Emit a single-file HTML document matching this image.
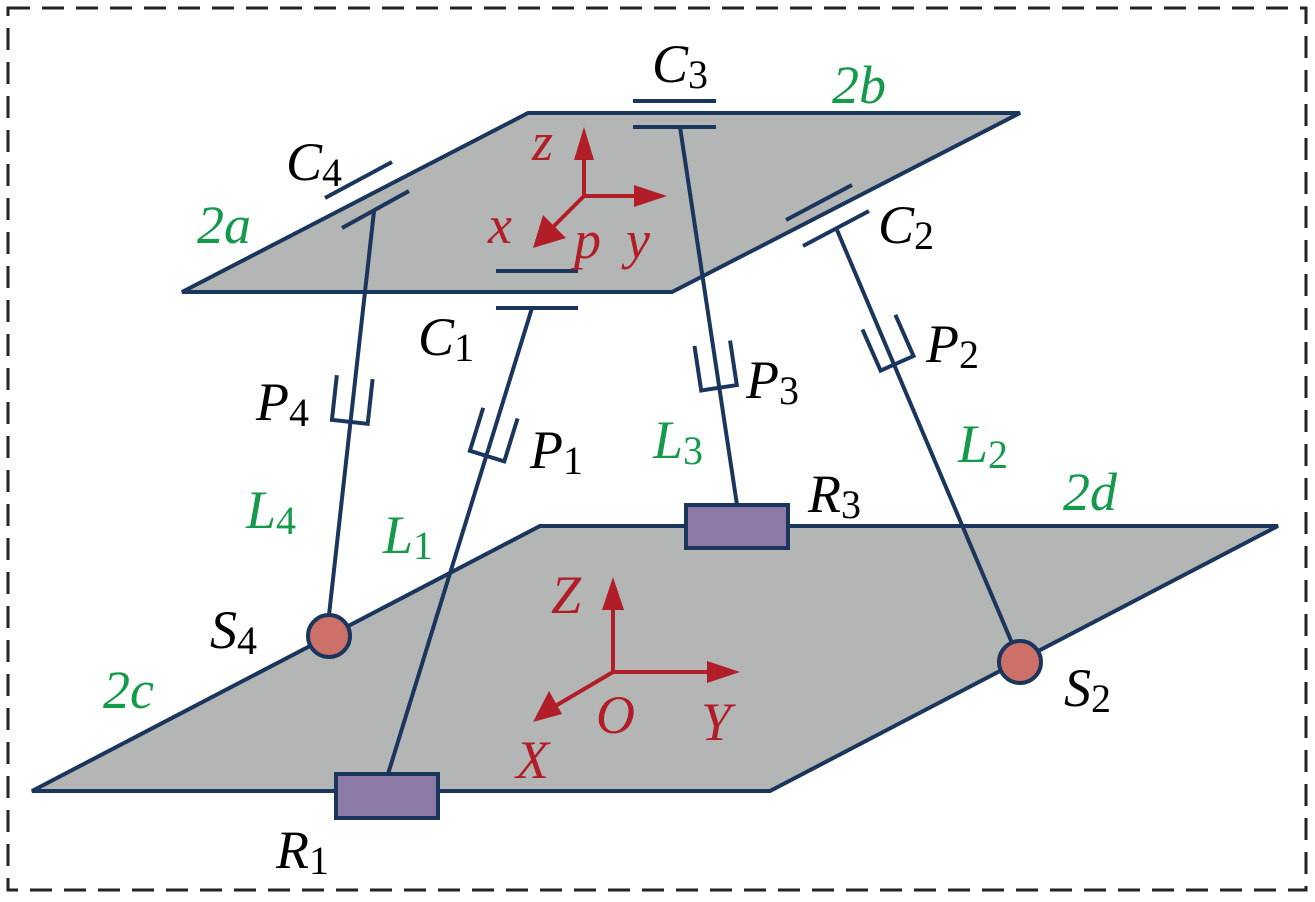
<!DOCTYPE html>
<html><head><style>
html,body{margin:0;padding:0;background:#fff}
text{font-family:"Liberation Serif","DejaVu Serif",serif;font-style:italic;font-size:54px}
.k{fill:#000}.g{fill:#15994a}.r{fill:#b21e28}
tspan.s{font-size:40px;font-style:normal}
</style></head><body>
<svg width="1315" height="897" viewBox="0 0 1315 897" xmlns="http://www.w3.org/2000/svg" font-family="Liberation Serif, serif">
<rect x="8" y="8" width="1298" height="882" fill="none" stroke="#222" stroke-width="3" stroke-dasharray="22,12"/>
<polygon points="182,292 528,113 1020,113 672,292" fill="#b4b5b5" stroke="#1b365d" stroke-width="4"/>
<polygon points="32,791 540,526 1278,526 770,791" fill="#b4b5b5" stroke="#1b365d" stroke-width="4"/>
<g stroke="#1b365d" stroke-width="4" fill="none">
<line x1="633" y1="101" x2="716" y2="101"/><line x1="633" y1="127" x2="716" y2="127"/>
<line x1="325" y1="198" x2="392" y2="162"/><line x1="342" y1="228" x2="409" y2="191"/>
<line x1="496" y1="271" x2="578" y2="271"/><line x1="496" y1="308" x2="578" y2="308"/>
<line x1="786" y1="220" x2="852" y2="185"/><line x1="803" y1="246" x2="869" y2="211"/>
<line x1="374" y1="211" x2="329" y2="615"/>
<line x1="532" y1="308" x2="388" y2="774"/>
<line x1="680" y1="127" x2="737" y2="505"/>
<line x1="837" y1="230" x2="1012" y2="643"/>
<g transform="translate(352,402) rotate(6.3)"><polyline points="-18,-25 -18,20 18,20 18,-25"/></g>
<g transform="translate(493,437) rotate(17.2)"><polyline points="-18,-25 -18,20 18,20 18,-25"/></g>
<g transform="translate(716,368) rotate(-8.6)"><polyline points="-18,-25 -18,20 18,20 18,-25"/></g>
<g transform="translate(889,345) rotate(-23.8)"><polyline points="-18,-25 -18,20 18,20 18,-25"/></g>
</g>
<rect x="686" y="505" width="102" height="43" fill="#8c79a5" stroke="#1b365d" stroke-width="4"/>
<rect x="336" y="774" width="102" height="44" fill="#8c79a5" stroke="#1b365d" stroke-width="4"/>
<circle cx="329" cy="636" r="21" fill="#cd7068" stroke="#1b365d" stroke-width="4"/>
<circle cx="1020" cy="662" r="21" fill="#cd7068" stroke="#1b365d" stroke-width="4"/>
<g stroke="#b21e28" stroke-width="4" fill="#b21e28">
<line x1="584" y1="196" x2="584" y2="150"/><polygon points="584,127 574,160 594,160" stroke="none"/>
<line x1="584" y1="196" x2="640" y2="196"/><polygon points="667,196 634,185 634,207" stroke="none"/>
<line x1="584" y1="196" x2="550" y2="230"/><polygon points="533,248 543,215 566,238" stroke="none"/>
<line x1="613" y1="672" x2="613" y2="600"/><polygon points="613,577 602,610 624,610" stroke="none"/>
<line x1="613" y1="672" x2="715" y2="672"/><polygon points="740,672 707,661 707,683" stroke="none"/>
<line x1="613" y1="672" x2="552" y2="708"/><polygon points="533,722 549,691 562,714" stroke="none"/>
</g>
<text class="k" x="652" y="82">C<tspan class="s" dy="6">3</tspan></text>
<text class="g" x="832" y="103">2b</text>
<text class="k" x="286" y="180">C<tspan class="s" dy="6">4</tspan></text>
<text class="g" x="197" y="243">2a</text>
<text class="k" x="878" y="243">C<tspan class="s" dy="6">2</tspan></text>
<text class="k" x="418" y="355">C<tspan class="s" dy="6">1</tspan></text>
<text class="k" x="256" y="420">P<tspan class="s" dy="6">4</tspan></text>
<text class="k" x="530" y="468">P<tspan class="s" dy="6">1</tspan></text>
<text class="k" x="746" y="398">P<tspan class="s" dy="6">3</tspan></text>
<text class="k" x="926" y="362">P<tspan class="s" dy="6">2</tspan></text>
<text class="g" x="653" y="458">L<tspan class="s" dy="6">3</tspan></text>
<text class="g" x="958" y="462">L<tspan class="s" dy="6">2</tspan></text>
<text class="g" x="1063" y="510">2d</text>
<text class="k" x="808" y="512">R<tspan class="s" dy="6">3</tspan></text>
<text class="g" x="246" y="528">L<tspan class="s" dy="6">4</tspan></text>
<text class="g" x="383" y="553">L<tspan class="s" dy="6">1</tspan></text>
<text class="k" x="210" y="648">S<tspan class="s" dy="6">4</tspan></text>
<text class="g" x="103" y="708">2c</text>
<text class="k" x="1064" y="706">S<tspan class="s" dy="6">2</tspan></text>
<text class="k" x="276" y="868">R<tspan class="s" dy="6">1</tspan></text>
<text class="r" x="532" y="160">z</text>
<text class="r" x="488" y="243">x</text>
<text class="r" x="574" y="258">p</text>
<text class="r" x="626" y="258">y</text>
<text class="r" x="551" y="613">Z</text>
<text class="r" x="596" y="733">O</text>
<text class="r" x="701" y="740">Y</text>
<text class="r" x="516" y="778">X</text>
</svg>
</body></html>
